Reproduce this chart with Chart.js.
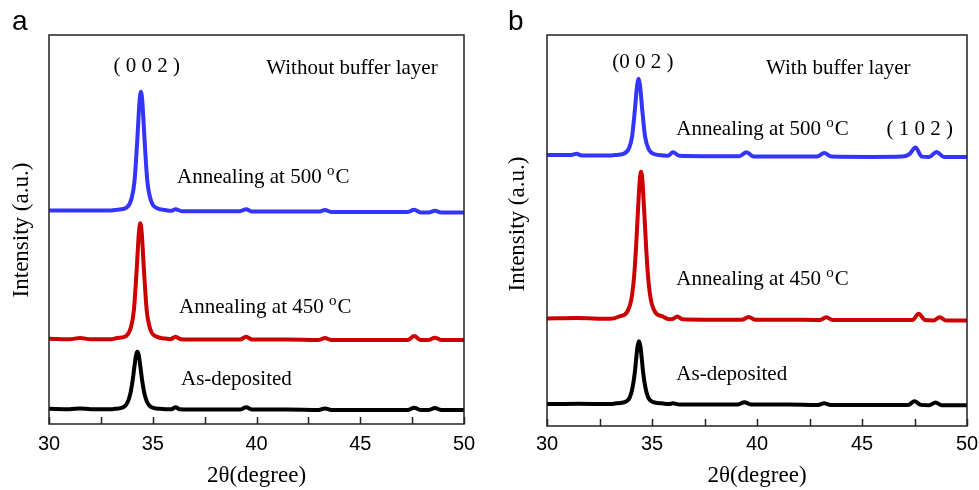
<!DOCTYPE html>
<html>
<head>
<meta charset="utf-8">
<script src="https://cdn.jsdelivr.net/npm/chart.js@4.4.1/dist/chart.umd.min.js"></script>
<style>
  html, body { margin: 0; padding: 0; background: #fff; }
  #wrap { position: relative; width: 979px; height: 490px; }
  canvas { position: absolute; top: 0; }
  #chartA { left: 0; }
  #chartB { left: 490px; }
</style>
</head>
<body>
<div id="wrap">
  <canvas id="chartA" width="490" height="490"></canvas>
  <canvas id="chartB" width="489" height="490"></canvas>
</div>
<script>
// x axis: 2theta in degrees, y: intensity (arbitrary units, offset per curve)
const xMajorTicks = [30, 35, 40, 45, 50];
const xMinorTicks = [30, 32.5, 35, 37.5, 40, 42.5, 45, 47.5, 50];

// panel a - without buffer layer
const aAsDepX = [30, 31.0, 31.5, 32.0, 33.0, 33.18, 33.58, 33.79, 33.92, 34.03, 34.125, 34.19, 34.26, 34.33, 34.395, 34.49, 34.60, 34.73, 34.94, 35.34, 35.6, 35.9, 36.1, 36.3, 37.5, 39.2, 39.5, 39.8, 41.5, 43.0, 43.3, 43.6, 45.5, 47.3, 47.6, 47.9, 48.3, 48.6, 48.9, 50];
const aAsDepY = [3.9, 3.8, 4.0, 3.8, 3.8, 3.9, 4.3, 5.6, 7.8, 11.2, 15.1, 17.6, 18.6, 17.6, 15.1, 11.2, 7.8, 5.6, 4.3, 3.9, 3.8, 3.8, 4.3, 3.8, 3.7, 3.7, 4.3, 3.7, 3.7, 3.6, 4.0, 3.6, 3.6, 3.6, 4.2, 3.6, 3.6, 4.1, 3.6, 3.6];

const a450X = [30, 31.0, 31.5, 32.0, 33.0, 33.28, 33.68, 33.95, 34.09, 34.22, 34.33, 34.40, 34.47, 34.58, 34.71, 34.90, 35.17, 35.57, 35.85, 36.1, 36.35, 37.5, 39.2, 39.5, 39.8, 41.5, 43.0, 43.3, 43.6, 45.5, 47.3, 47.6, 47.9, 48.3, 48.6, 48.9, 50];
const a450Y = [21.9, 21.8, 22.1, 21.8, 21.8, 22.1, 22.5, 24.9, 29.2, 39.2, 49.0, 51.6, 49.0, 39.2, 29.2, 24.1, 22.5, 22.0, 21.8, 22.4, 21.8, 21.7, 21.7, 22.4, 21.7, 21.7, 21.6, 22.1, 21.6, 21.6, 21.6, 22.6, 21.6, 21.6, 22.2, 21.6, 21.6];

const a500X = [30, 31.5, 33.0, 33.31, 33.71, 33.98, 34.12, 34.25, 34.36, 34.43, 34.50, 34.61, 34.74, 34.93, 35.20, 35.60, 35.9, 36.1, 36.4, 37.5, 39.2, 39.5, 39.8, 41.5, 43.0, 43.3, 43.6, 45.5, 47.3, 47.6, 47.9, 48.3, 48.6, 48.9, 50];
const a500Y = [54.9, 54.9, 54.9, 55.1, 55.5, 58.0, 62.4, 72.6, 82.7, 85.4, 82.7, 72.6, 62.4, 57.2, 55.5, 55.0, 54.8, 55.2, 54.7, 54.7, 54.7, 55.2, 54.6, 54.6, 54.6, 55.0, 54.5, 54.5, 54.5, 55.1, 54.4, 54.4, 54.8, 54.4, 54.4];

// panel b - with buffer layer
const bAsDepX = [30, 31.5, 33.0, 33.30, 33.70, 33.95, 34.08, 34.18, 34.245, 34.31, 34.38, 34.45, 34.515, 34.58, 34.68, 34.81, 35.06, 35.46, 35.8, 36.0, 36.3, 37.5, 39.1, 39.4, 39.7, 41.5, 42.9, 43.2, 43.5, 45.5, 47.2, 47.5, 47.8, 48.2, 48.5, 48.8, 50];
const bAsDepY = [5.6, 5.7, 5.6, 5.8, 6.1, 7.4, 10.0, 13.6, 17.1, 20.3, 21.7, 20.3, 17.1, 13.6, 10.0, 7.4, 6.1, 5.8, 5.6, 5.8, 5.5, 5.5, 5.5, 6.1, 5.5, 5.5, 5.4, 5.8, 5.4, 5.4, 5.4, 6.3, 5.4, 5.3, 6.0, 5.3, 5.3];

const b450X = [30, 31.4, 33.0, 33.44, 33.83, 34.025, 34.155, 34.245, 34.35, 34.415, 34.48, 34.545, 34.61, 34.715, 34.805, 34.935, 35.13, 35.52, 35.8, 36.0, 36.2, 36.45, 37.5, 39.3, 39.6, 39.9, 41.5, 43.0, 43.3, 43.6, 45.5, 47.4, 47.7, 48.0, 48.4, 48.7, 49.0, 50];
const b450Y = [27.5, 27.6, 27.4, 28.0, 29.3, 32.6, 38.7, 46.2, 56.9, 62.7, 65.0, 62.7, 56.9, 46.2, 38.7, 32.6, 29.3, 28.0, 27.3, 27.4, 28.0, 27.3, 27.2, 27.2, 27.9, 27.2, 27.2, 27.1, 27.8, 27.1, 27.1, 27.1, 28.7, 27.1, 27.0, 27.8, 27.0, 27.0];

const b500X = [30, 31.15, 31.4, 31.65, 33.0, 33.24, 33.64, 33.91, 34.05, 34.18, 34.29, 34.36, 34.43, 34.54, 34.67, 34.86, 35.13, 35.53, 35.75, 36.0, 36.3, 37.5, 39.15, 39.5, 39.85, 41.5, 42.85, 43.2, 43.55, 45.5, 46.9, 47.25, 47.55, 47.85, 48.2, 48.55, 48.9, 50];
const b500Y = [69.3, 69.3, 69.6, 69.2, 69.2, 69.3, 69.6, 71.1, 74.0, 80.6, 87.1, 88.8, 87.1, 80.6, 74.0, 70.6, 69.5, 69.2, 69.1, 70.0, 69.1, 69.0, 69.0, 70.0, 68.9, 68.9, 68.9, 69.8, 68.9, 68.8, 68.9, 69.5, 71.2, 68.9, 68.8, 70.1, 68.8, 68.8];

// text labels inside the plots (x in degrees, y in intensity units)
const aNotes = [
  { text: "( 0 0 2 )", x: 34.71, y: 90.6, align: "center" },
  { text: "Without buffer layer", x: 44.6, y: 90.0, align: "center" },
  { text: "Annealing at 500 ", sup: "o", tail: "C", x: 36.17, y: 62.0, align: "left" },
  { text: "Annealing at 450 ", sup: "o", tail: "C", x: 36.27, y: 28.5, align: "left" },
  { text: "As-deposited", x: 36.36, y: 10.0, align: "left" },
];
const bNotes = [
  { text: "(0 0 2 )", x: 34.56, y: 91.5, align: "center" },
  { text: "With buffer layer", x: 43.87, y: 90.0, align: "center" },
  { text: "Annealing at 500 ", sup: "o", tail: "C", x: 36.16, y: 74.4, align: "left" },
  { text: "( 1 0 2 )", x: 47.75, y: 74.4, align: "center" },
  { text: "Annealing at 450 ", sup: "o", tail: "C", x: 36.16, y: 36.0, align: "left" },
  { text: "As-deposited", x: 36.16, y: 11.7, align: "left" },
];

const blue = "#3434ff";
const red = "#cc0000";
const black = "#000000";
const serif = "'Liberation Serif', 'Times New Roman', serif";
const sans = "'Liberation Sans', Arial, sans-serif";

function toPoints(xs, ys) {
  return xs.map((x, i) => ({ x: x, y: ys[i] }));
}

function series(xs, ys, colour) {
  return {
    data: toPoints(xs, ys),
    borderColor: colour,
    backgroundColor: colour,
    borderWidth: 4,
    pointRadius: 0,
    showLine: true,
    cubicInterpolationMode: "monotone",
  };
}

const decorPlugin = {
  id: "decor",
  afterDatasetsDraw(chart, args, opts) {
    const ctx = chart.ctx;
    const area = chart.chartArea;
    const xs = chart.scales.x;
    const ys = chart.scales.y;
    ctx.save();

    // frame
    ctx.strokeStyle = "#222";
    ctx.lineWidth = 1.5;
    ctx.strokeRect(area.left, area.top, area.right - area.left, area.bottom - area.top);

    // inward ticks on the bottom axis
    xMinorTicks.forEach((v) => {
      const px = Math.round(xs.getPixelForValue(v)) + 0.5;
      ctx.beginPath();
      ctx.moveTo(px, area.bottom);
      ctx.lineTo(px, area.bottom - 7);
      ctx.stroke();
    });

    // notes
    ctx.fillStyle = "#000";
    ctx.textBaseline = "alphabetic";
    opts.notes.forEach((n) => {
      const px = xs.getPixelForValue(n.x);
      const py = ys.getPixelForValue(n.y);
      ctx.font = "21px " + serif;
      ctx.textAlign = n.align;
      ctx.fillText(n.text, px, py);
      if (n.sup) {
        ctx.textAlign = "left";
        let cx = px + ctx.measureText(n.text).width;
        ctx.font = "15px " + serif;
        ctx.fillText(n.sup, cx, py - 8);
        cx += ctx.measureText(n.sup).width + 1;
        ctx.font = "21px " + serif;
        ctx.fillText(n.tail, cx, py);
      }
    });

    // axis titles
    ctx.font = "23px " + serif;
    ctx.textAlign = "center";
    ctx.textBaseline = "middle";
    ctx.fillText("2\u03b8(degree)", (area.left + area.right) / 2, 476);

    ctx.save();
    ctx.translate(opts.yTitleX, opts.yTitleY);
    ctx.rotate(-Math.PI / 2);
    ctx.fillText("Intensity (a.u.)", 0, 0);
    ctx.restore();

    // panel letter
    ctx.font = "28px " + sans;
    ctx.textAlign = "left";
    ctx.textBaseline = "alphabetic";
    ctx.fillText(opts.letter, opts.letterX, 30);

    ctx.restore();
  },
};

function drawPanel(canvasId, datasets, cfg) {
  const ctx = document.getElementById(canvasId).getContext("2d");
  return new Chart(ctx, {
    type: "scatter",
    data: { datasets: datasets },
    plugins: [decorPlugin],
    options: {
      responsive: false,
      animation: false,
      layout: { padding: { left: cfg.padLeft, right: cfg.padRight, top: 35, bottom: 0 } },
      plugins: {
        legend: { display: false },
        tooltip: { enabled: false },
        decor: cfg,
      },
      scales: {
        x: {
          type: "linear",
          min: 30,
          max: 50,
          grid: { display: false, drawTicks: false },
          border: { display: false },
          afterBuildTicks: (scale) => {
            scale.ticks = xMajorTicks.map((v) => ({ value: v }));
          },
          ticks: {
            padding: cfg.tickPad,
            maxRotation: 0,
            color: "#000",
            font: { family: sans, size: 20 },
          },
          afterFit: (scale) => {
            scale.height = cfg.axisHeight;
            scale.paddingLeft = 0;
            scale.paddingRight = 0;
          },
        },
        y: { display: false, min: 0, max: 100 },
      },
    },
  });
}

drawPanel(
  "chartA",
  [series(aAsDepX, aAsDepY, black), series(a450X, a450Y, red), series(a500X, a500Y, blue)],
  { letter: "a", letterX: 12, yTitleX: 22, yTitleY: 230, padLeft: 49, padRight: 26, axisHeight: 66, tickPad: 8, notes: aNotes }
);

drawPanel(
  "chartB",
  [series(bAsDepX, bAsDepY, black), series(b450X, b450Y, red), series(b500X, b500Y, blue)],
  { letter: "b", letterX: 18, yTitleX: 28, yTitleY: 224, padLeft: 57, padRight: 12, axisHeight: 64, tickPad: 6, notes: bNotes }
);
</script>
</body>
</html>
